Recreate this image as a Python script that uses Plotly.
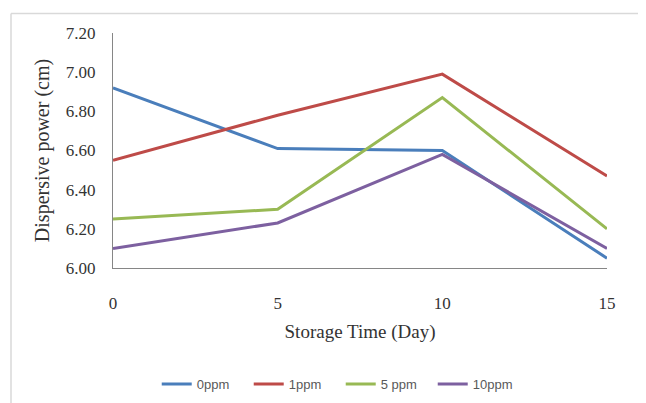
import plotly.graph_objects as go

days = [0, 5, 10, 15]
series_names = ["0ppm", "1ppm", "5 ppm", "10ppm"]
ppm0 = [6.92, 6.61, 6.60, 6.05]
ppm1 = [6.55, 6.78, 6.99, 6.47]
ppm5 = [6.25, 6.30, 6.87, 6.20]
ppm10 = [6.10, 6.23, 6.58, 6.10]
y_ticks = [6.00, 6.20, 6.40, 6.60, 6.80, 7.00, 7.20]
x_ticks = [0, 5, 10, 15]

colors = ["#4A7EBB", "#BE4B48", "#98B954", "#7D60A0"]

fig = go.Figure()
for name, vals, c in zip(series_names, [ppm0, ppm1, ppm5, ppm10], colors):
    fig.add_trace(go.Scatter(x=days, y=vals, mode="lines", name=name,
                             line=dict(color=c, width=3)))

serif = "Liberation Serif, Times New Roman, serif"
W, H = 638, 395
L, R, T, B = 105, 39, 25, 135
PW, PH = W - L - R, H - T - B
tickfont = dict(family=serif, size=17, color="#333333")

fig.update_layout(
    width=W, height=H,
    margin=dict(l=L, r=R, t=T, b=B),
    paper_bgcolor="white", plot_bgcolor="white",
    font=dict(family=serif, size=17, color="#333333"),
    showlegend=True,
    legend=dict(orientation="h", x=0.461, xanchor="center", xref="paper",
                y=1 - 376 / H, yanchor="middle", yref="container",
                font=dict(family="Liberation Sans, Arial, sans-serif", size=13, color="#595959"),
                entrywidth=47, entrywidthmode="pixels",
                traceorder="normal"),
    xaxis=dict(range=[0, 15], tickvals=x_ticks, ticktext=[str(v) for v in x_ticks],
               tickfont=tickfont,
               showgrid=False, zeroline=False, showline=True, linecolor="#868686", linewidth=1,
               ticks="", ticklabelstandoff=20, automargin=False,
               title=dict(text="Storage Time (Day)", font=dict(family=serif, size=19, color="#333333"),
                          standoff=12)),
    yaxis=dict(range=[6.0, 7.2], tickvals=y_ticks, ticktext=[f"{v:.2f}" for v in y_ticks],
               tickfont=tickfont,
               showgrid=False, zeroline=False, showline=True, linecolor="#868686", linewidth=1,
               ticks="", ticklabelstandoff=13, automargin=False,
               title=dict(text="Dispersive power (cm)", font=dict(family=serif, size=20, color="#333333"),
                          standoff=10)),
    shapes=[
        dict(type="line", xref="paper", yref="paper", x0=(3 - L) / PW, x1=(3 - L) / PW,
             y0=(T + PH - 5.5) / PH, y1=-(H - T - PH) / PH - 0.1, line=dict(color="#D9D9D9", width=1.5)),
        dict(type="line", xref="paper", yref="paper", x0=(3 - L) / PW, x1=(W - L) / PW + 0.1,
             y0=(T + PH - 5.5) / PH, y1=(T + PH - 5.5) / PH, line=dict(color="#D9D9D9", width=1.5)),
    ],
)

fig.write_html("out.html")
